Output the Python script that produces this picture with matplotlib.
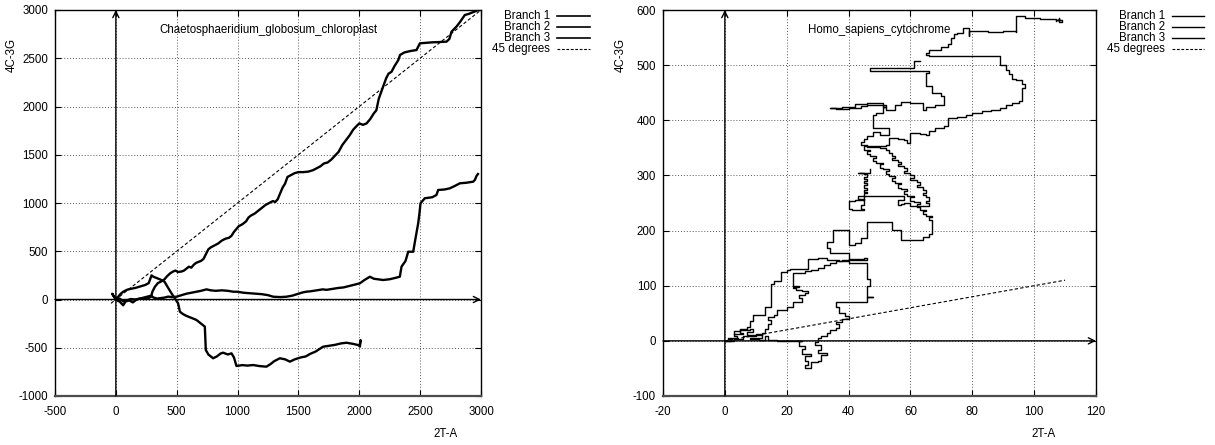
import numpy as np
import matplotlib
matplotlib.use('Agg')
import matplotlib.pyplot as plt
from matplotlib.lines import Line2D

plt.rcParams['font.family'] = ['Liberation Sans', 'DejaVu Sans']
plt.rcParams['font.size'] = 8.3
plt.rcParams['axes.unicode_minus'] = False

# ---- left panel: Chaetosphaeridium globosum chloroplast (2T-A, 4C-3G) ----
chl_title = 'Chaetosphaeridium_globosum_chloroplast'
chl_xlim = (-500, 3000)
chl_ylim = (-1000, 3000)
chl_xticks = [-500, 0, 500, 1000, 1500, 2000, 2500, 3000]
chl_yticks = [-1000, -500, 0, 500, 1000, 1500, 2000, 2500, 3000]

chl_b1 = [(0, 0), (30, 10), (60, -20), (90, -10), (120, 5), (160, 0), (200, 10), (240, 5), (270, 15),
          (290, 30), (300, 80), (320, 130), (345, 170), (370, 185), (400, 210), (420, 240), (445, 270),
          (470, 290), (490, 300), (510, 285), (540, 290), (560, 300), (580, 320), (600, 340), (620, 330),
          (640, 360), (660, 380), (680, 390), (700, 400), (720, 420), (740, 470), (760, 520), (780, 540),
          (810, 560), (840, 580), (870, 610), (900, 630), (930, 640), (950, 660), (970, 700), (990, 730),
          (1010, 760), (1040, 780), (1070, 810), (1090, 850), (1110, 870), (1140, 890), (1170, 920),
          (1200, 950), (1230, 980), (1260, 1000), (1290, 1020), (1310, 1010), (1330, 1040), (1350, 1100),
          (1370, 1160), (1390, 1200), (1410, 1270), (1440, 1290), (1470, 1310), (1500, 1320), (1540, 1320),
          (1580, 1325), (1620, 1340), (1650, 1360), (1680, 1380), (1710, 1410), (1740, 1420), (1770, 1450),
          (1800, 1490), (1830, 1530), (1860, 1600), (1890, 1650), (1920, 1700), (1950, 1760), (1980, 1800),
          (2000, 1825), (2030, 1810), (2060, 1825), (2090, 1870), (2120, 1930), (2140, 1960), (2150, 2020),
          (2160, 2080), (2180, 2150), (2200, 2220), (2220, 2290), (2240, 2340), (2265, 2360), (2290, 2420),
          (2320, 2480), (2335, 2534), (2370, 2560), (2420, 2575), (2470, 2585), (2498, 2655), (2550, 2660),
          (2600, 2665), (2660, 2668), (2717, 2672), (2740, 2700), (2758, 2775), (2800, 2830), (2830, 2880),
          (2867, 2948), (2900, 2960), (2930, 2975), (2960, 2990)]

chl_b2 = [(0, 0), (20, 30), (40, 60), (60, 80), (90, 100), (120, 110), (160, 120), (200, 135), (240, 150),
          (270, 170), (293, 250), (310, 235), (340, 220), (375, 202), (400, 184), (430, 120), (457, 64),
          (480, 20), (511, -39), (520, -90), (526, -126), (550, -150), (580, -170), (620, -190), (662, -212),
          (700, -250), (731, -281), (735, -400), (739, -523), (760, -570), (799, -609), (830, -590),
          (860, -560), (881, -551), (920, -570), (950, -558), (970, -600), (991, -689), (1040, -680),
          (1080, -685), (1128, -679), (1180, -690), (1237, -696), (1270, -670), (1300, -640), (1347, -609),
          (1390, -620), (1430, -644), (1470, -620), (1520, -600), (1560, -590), (1594, -565), (1640, -540),
          (1703, -489), (1750, -480), (1800, -470), (1850, -455), (1895, -448), (1950, -460), (2000, -475),
          (2005, -489), (2010, -420), (2005, -460)]

chl_b3 = [(0, 0), (-20, 40), (-30, 60), (-10, 20), (10, -10), (30, -20), (60, -60), (80, -20), (110, -10),
          (140, -30), (170, 0), (200, 10), (230, 20), (260, 30), (290, 40), (310, 20), (340, 10), (370, 15),
          (400, 20), (430, 30), (460, 25), (498, 29), (540, 45), (580, 60), (620, 70), (660, 80), (700, 90),
          (744, 105), (780, 95), (820, 90), (870, 95), (920, 90), (963, 81), (1000, 80), (1050, 70),
          (1100, 65), (1150, 60), (1200, 55), (1250, 45), (1292, 29), (1350, 25), (1402, 29), (1450, 40),
          (1500, 60), (1540, 75), (1566, 81), (1600, 85), (1650, 95), (1700, 105), (1730, 100), (1780, 110),
          (1830, 120), (1870, 125), (1895, 133), (1950, 150), (2005, 168), (2040, 200), (2087, 236),
          (2120, 215), (2150, 210), (2196, 202), (2250, 210), (2300, 225), (2333, 236), (2347, 340),
          (2380, 400), (2402, 495), (2443, 495), (2460, 620), (2484, 790), (2495, 900), (2503, 997),
          (2538, 1049), (2600, 1060), (2634, 1083), (2648, 1135), (2700, 1140), (2744, 1152), (2790, 1180),
          (2826, 1204), (2880, 1210), (2936, 1221), (2950, 1240), (2963, 1280), (2975, 1300)]

chl_diag = [(-40, -40), (2990, 2990)]

# ---- right panel: Homo sapiens cytochrome ----
hs_title = 'Homo_sapiens_cytochrome'
hs_xlim = (-20, 120)
hs_ylim = (-100, 600)
hs_xticks = [-20, 0, 20, 40, 60, 80, 100, 120]
hs_yticks = [-100, 0, 100, 200, 300, 400, 500, 600]

hs_b1 = [(0, 0), (2, 3), (1, 6), (4, 8), (3, 12), (6, 14), (5, 20), (8, 22), (9, 16), (7, 10), (10, 12),
         (12, 6), (8, 4), (11, 2), (13, 8), (14, 2), (17, -1), (22, 0), (25, -1), (24, -10), (26, -14),
         (25, -24), (28, -28), (26, -36), (27, -44), (26, -50), (28, -47), (28, -38), (30, -36), (31, -26),
         (33, -22), (30, -16), (31, -8), (29, -2), (30, 5), (31, 8), (33, 14), (34, 20), (36, 24), (37, 30),
         (36, 34), (38, 40), (40, 45), (39, 50), (37, 56), (37, 62), (36, 66), (36, 71), (46, 71), (46, 80),
         (48, 80), (46, 84), (46, 100), (47, 112), (46, 124), (46, 141), (44, 142), (40, 144), (37, 147),
         (33, 150), (30, 148), (27, 144), (27, 131), (24, 131), (21, 128), (20, 124), (18, 122), (18, 108),
         (16, 104), (15, 100), (15, 62), (14, 62), (13, 47), (9, 47), (9, 36), (8, 26), (7, 22), (5, 18),
         (3, 12)]

hs_b2 = [(0, 0), (3, 4), (6, 8), (10, 10), (12, 14), (13, 22), (14, 30), (15, 38), (14, 44), (16, 47),
         (17, 52), (17, 56), (20, 56), (20, 62), (22, 62), (22, 70), (25, 72), (25, 78), (24, 84), (26, 86),
         (27, 90), (25, 93), (23, 96), (22, 98), (24, 100), (22, 104), (22, 114), (22, 123), (24, 123),
         (26, 126), (28, 128), (30, 132), (32, 138), (34, 142), (36, 145), (38, 146), (40, 148), (45, 150),
         (46, 147), (40, 150), (40, 160), (35, 160), (34, 168), (33, 180), (35, 183), (35, 201), (39, 201),
         (40, 190), (40, 174), (42, 178), (44, 186), (46, 195), (46, 215), (50, 216), (53, 216), (54, 201),
         (57, 198), (57, 183), (61, 183), (64, 189), (66, 194), (67, 201), (67, 219), (66, 224), (67, 227),
         (65, 230), (64, 235), (65, 238), (63, 242), (62, 248), (63, 251), (61, 254), (60, 260), (61, 263),
         (59, 266), (58, 272), (59, 275), (57, 278), (56, 284), (57, 287), (55, 290), (54, 296), (55, 299),
         (53, 302), (52, 308), (53, 311), (51, 314), (50, 320), (51, 323), (49, 326), (48, 332), (49, 335),
         (47, 338), (46, 344), (47, 347), (45, 350), (45, 353), (49, 353), (52, 356), (53, 368), (56, 366),
         (58, 365), (59, 359), (60, 377), (63, 376), (65, 374), (66, 380), (68, 386), (71, 389), (72, 396),
         (72, 404), (75, 406), (78, 410), (80, 413), (83, 416), (86, 419), (89, 422), (91, 428), (93, 431),
         (95, 435), (96, 437), (96, 450), (96, 458), (97, 465), (96, 473), (94, 474), (93, 484), (92, 492),
         (91, 500), (89, 504), (89, 517), (67, 517), (66, 519), (65, 522), (66, 528), (69, 528), (70, 533),
         (72, 538), (73, 550), (74, 556), (75, 559), (77, 564), (77, 568), (79, 568), (79, 552), (79, 562),
         (82, 562), (85, 561), (90, 562), (94, 561), (94, 589), (96, 589), (97, 586), (100, 585), (102, 583),
         (105, 583), (107, 582), (108, 586), (108, 578), (109, 582), (107, 580)]

hs_b3 = [(63, 507), (61, 507), (61, 495), (50, 495), (47, 489), (55, 489), (66, 489), (66, 485), (65, 480),
         (65, 462), (67, 456), (67, 450), (70, 444), (71, 438), (71, 428), (68, 425), (65, 419), (64, 431),
         (60, 434), (57, 428), (55, 419), (52, 425), (51, 431), (46, 429), (42, 424), (38, 422), (34, 422),
         (36, 420), (40, 423), (44, 426), (46, 428), (50, 427), (52, 425), (51, 413), (49, 410), (48, 407),
         (48, 386), (50, 386), (52, 386), (53, 374), (50, 378), (48, 372), (46, 366), (45, 360), (44, 356),
         (46, 352), (50, 350), (52, 346), (53, 340), (54, 335), (55, 331), (54, 328), (56, 324), (57, 320),
         (56, 317), (58, 313), (59, 308), (58, 305), (60, 300), (61, 295), (60, 292), (62, 288), (63, 282),
         (62, 279), (64, 274), (65, 268), (64, 265), (65, 260), (66, 254), (65, 250), (66, 246), (66, 244),
         (63, 244), (60, 250), (58, 248), (57, 247), (56, 256), (58, 258), (58, 262), (43, 262), (43, 258),
         (45, 256), (42, 254), (40, 250), (40, 240), (41, 238), (45, 240), (44, 246), (45, 250), (45, 268),
         (46, 270), (45, 274), (46, 278), (45, 282), (46, 286), (45, 290), (46, 294), (45, 298), (46, 302),
         (45, 305), (43, 304), (47, 307), (47, 312)]

hs_diag = [(0, 0), (110, 110)]

legend_labels = ['Branch 1', 'Branch 2', 'Branch 3', '45 degrees']

W, H = 1215, 445
fig = plt.figure(figsize=(W / 100, H / 100), dpi=100)


def px(x, y):
    return x / W, 1 - y / H


def setup(ax, xlim, ylim, xticks, yticks, title):
    ax.set_xlim(*xlim)
    ax.set_ylim(*ylim)
    ax.set_xticks(xticks)
    ax.set_yticks(yticks)
    ax.tick_params(direction='in', top=True, right=True, length=4, width=0.8,
                   labelsize=8.3, pad=5)
    ax.tick_params(axis='x', pad=7)
    ax.grid(True, linestyle=(0, (1, 2)), color='0.35', lw=0.7)
    ax.set_axisbelow(True)
    for s in ax.spines.values():
        s.set_linewidth(1.0)
    ax.spines['bottom'].set_linewidth(1.6)
    ax.spines['bottom'].set_color('0.3')
    ax.text(0.5, (396 - 30) / 386, title, transform=ax.transAxes,
            ha='center', va='center', fontsize=8.3)
    arr = dict(arrowstyle='->', lw=1.0, color='k', shrinkA=0, shrinkB=0, mutation_scale=11)
    ax.annotate('', xy=(xlim[1], 0), xytext=(xlim[0], 0), arrowprops=arr, zorder=3)
    ax.annotate('', xy=(0, ylim[1]), xytext=(0, ylim[0]), arrowprops=arr, zorder=3)


def legend(x_text, x0, x1, lw):
    rows = [16, 27, 38, 49]
    for lab, r in zip(legend_labels, rows):
        fig.text(*px(x_text, r), lab, ha='right', va='center', fontsize=8.3)
        ls = (0, (2.5, 1.5)) if lab == '45 degrees' else '-'
        (xa, ya), (xb, _) = px(x0, r), px(x1, r)
        fig.add_artist(Line2D([xa, xb], [ya, ya], color='k', lw=lw if ls == '-' else 0.8,
                              linestyle=ls, transform=fig.transFigure))


# left
axL = fig.add_axes([55 / W, 1 - 396 / H, 426 / W, 386 / H])
setup(axL, chl_xlim, chl_ylim, chl_xticks, chl_yticks, chl_title)
for b in (chl_b1, chl_b2, chl_b3):
    bx, by = np.array(b).T
    axL.plot(bx, by, color='k', lw=1.7, zorder=4, solid_joinstyle='round')
dx, dy = np.array(chl_diag).T
axL.plot(dx, dy, color='k', lw=0.8, linestyle=(0, (3, 2)), zorder=4)
fig.text(*px(12, 55), '4C-3G', rotation=90, ha='center', va='center', fontsize=8.3)
fig.text(*px(445, 434), '2T-A', ha='center', va='center', fontsize=8.3)
legend(550, 557, 590, 1.2)

# right
axR = fig.add_axes([663 / W, 1 - 396 / H, 433 / W, 386 / H])
setup(axR, hs_xlim, hs_ylim, hs_xticks, hs_yticks, hs_title)
for b in (hs_b1, hs_b2, hs_b3):
    bx, by = np.array(b).T
    axR.plot(bx, by, color='k', lw=1.0, drawstyle='steps-post', zorder=4)
dx, dy = np.array(hs_diag).T
axR.plot(dx, dy, color='k', lw=0.8, linestyle=(0, (3, 2)), zorder=4)
fig.text(*px(621, 55), '4C-3G', rotation=90, ha='center', va='center', fontsize=8.3)
fig.text(*px(1043, 434), '2T-A', ha='center', va='center', fontsize=8.3)
legend(1165, 1172, 1204, 1.0)

fig.savefig('out.png', dpi=100)
